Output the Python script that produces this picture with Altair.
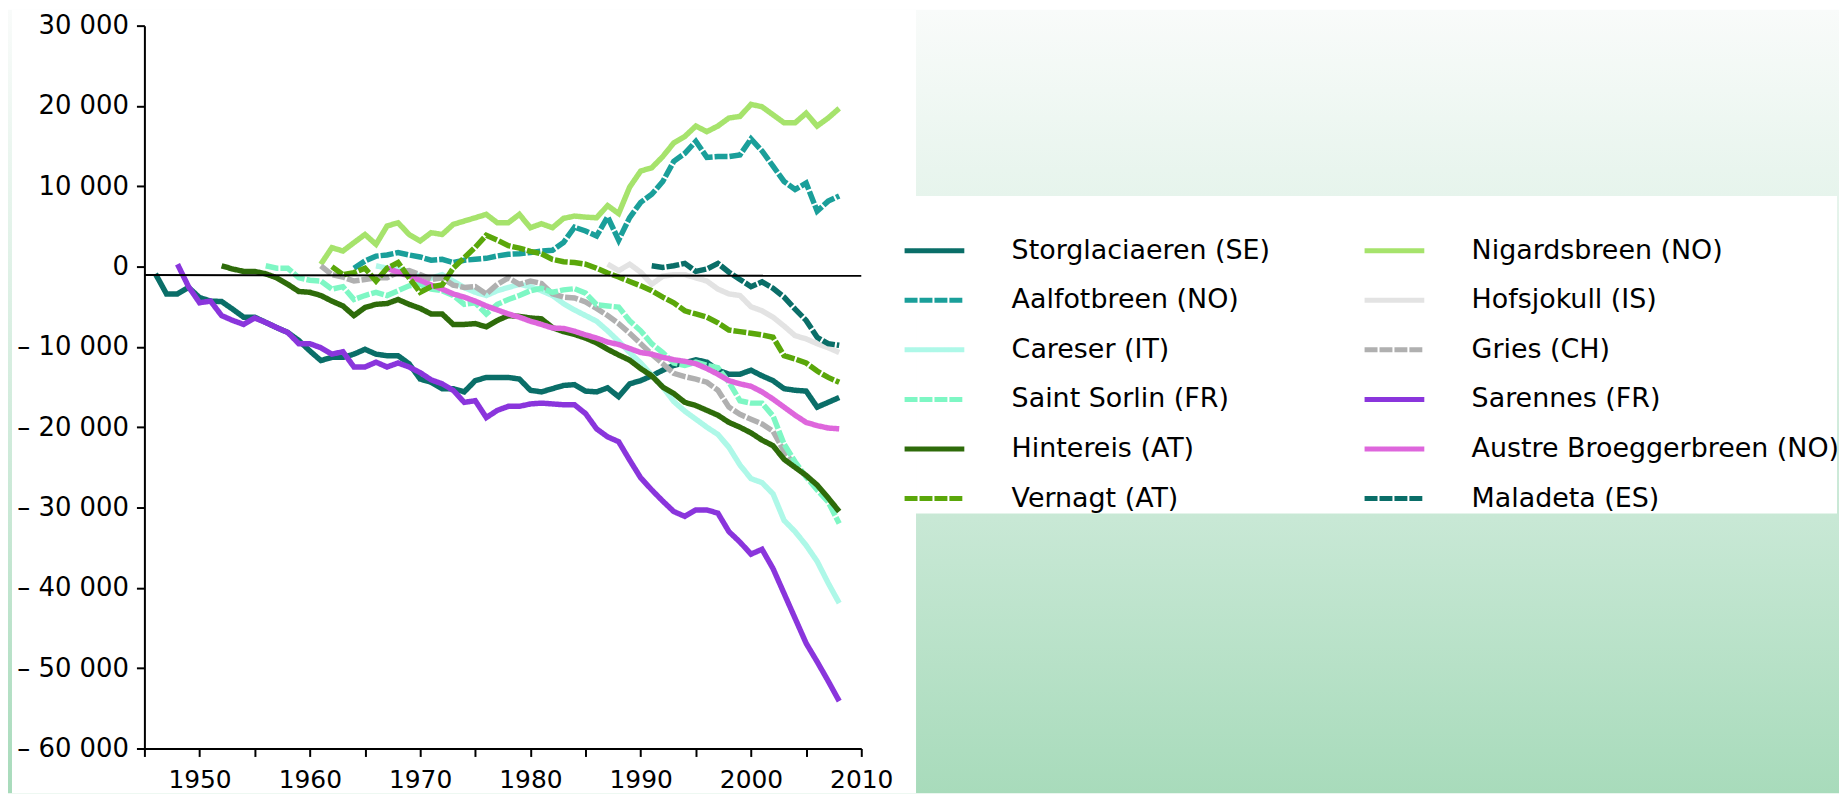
import altair as alt
import pandas as pd

# ---------------- data (cumulative mass balance, mm w.e.) ----------------
# legend order (the legend fills column by column)
glaciers = ["Storglaciaeren (SE)", "Aalfotbreen (NO)", "Careser (IT)", "Saint Sorlin (FR)",
            "Hintereis (AT)", "Vernagt (AT)", "Nigardsbreen (NO)", "Hofsjokull (IS)",
            "Gries (CH)", "Sarennes (FR)", "Austre Broeggerbreen (NO)", "Maladeta (ES)"]
colors = ["#0a6e68", "#1a9f9a", "#aef8e8", "#7ef7c4",
          "#2e6b0a", "#5aa70a", "#a6e36c", "#e3e3e3",
          "#b0b0b0", "#8a35dc", "#de66dc", "#0a6e68"]
dashes = [[1, 0], [13, 2], [1, 0], [13, 2],
          [1, 0], [13, 2], [1, 0], [1, 0],
          [13, 2], [1, 0], [1, 0], [13, 2]]

# drawing order of the lines
draw_order = ["Storglaciaeren (SE)", "Nigardsbreen (NO)", "Aalfotbreen (NO)", "Hofsjokull (IS)",
              "Careser (IT)", "Gries (CH)", "Saint Sorlin (FR)", "Sarennes (FR)",
              "Hintereis (AT)", "Austre Broeggerbreen (NO)", "Vernagt (AT)", "Maladeta (ES)"]

start_years = {
    "Storglaciaeren (SE)": 1946, "Nigardsbreen (NO)": 1961, "Aalfotbreen (NO)": 1964,
    "Hofsjokull (IS)": 1987, "Careser (IT)": 1966, "Gries (CH)": 1961,
    "Saint Sorlin (FR)": 1956, "Sarennes (FR)": 1948, "Hintereis (AT)": 1952,
    "Austre Broeggerbreen (NO)": 1967, "Vernagt (AT)": 1962, "Maladeta (ES)": 1991,
}

storglaciaeren = [-900, -3400, -3400, -2600, -3850, -4300, -4350, -5300, -6300, -6300,
                  -6950, -7600, -8200, -9200, -10500, -11700, -11300, -11300, -10900, -10300,
                  -10900, -11100, -11100, -12100, -14000, -14400, -15200, -15200, -15600, -14200,
                  -13800, -13800, -13800, -14000, -15400, -15600, -15200, -14800, -14700, -15500,
                  -15600, -15100, -16200, -14600, -14200, -13600, -12900, -12300, -12000, -11600,
                  -11900, -12900, -13400, -13400, -12900, -13600, -14200, -15200, -15400, -15500,
                  -17500, -16900, -16300]
nigardsbreen = [300, 2360, 1940, 2980, 4000, 2770, 5050, 5460, 4000, 3190,
                4220, 4000, 5250, 5670, 6080, 6500, 5460, 5460, 6500, 4840,
                5340, 4840, 6000, 6290, 6160, 6080, 7600, 6600, 9900, 11900,
                12300, 13700, 15400, 16200, 17500, 16800, 17500, 18500, 18700, 20200,
                19900, 18900, 17900, 17900, 19100, 17500, 18500, 19700]
aalfotbreen = [-200, 700, 1300, 1450, 1740, 1450, 1200, 790, 910, 500,
               790, 910, 1030, 1320, 1530, 1610, 1740, 1940, 2030, 3000,
               4900, 4430, 3800, 6200, 3300, 6100, 8000, 9000, 10600, 13100,
               14100, 15600, 13600, 13700, 13700, 13900, 15900, 14400, 12500, 10600,
               9600, 10400, 6900, 8150, 8800]
hofsjokull = [300, -500, 300, -700, -2200, -1200, -1000, -1000, -1400, -1800,
              -2800, -3400, -3600, -5000, -5500, -6300, -7400, -8600, -9000, -9600,
              -10100, -10700]
careser = [100, -200, -300, -700, -1200, -1450, -1000, -1800, -2600, -3200,
           -3600, -3000, -2600, -2200, -2500, -3000, -3600, -4600, -5400, -6100,
           -6800, -8000, -9300, -10700, -12000, -13500, -15000, -16800, -18000, -19000,
           -20000, -20900, -22500, -24700, -26400, -26900, -28300, -31600, -33000, -34700,
           -36700, -39400, -41900]
gries = [100, -1000, -1300, -1800, -1600, -1400, -1400, -700, -500, -1000,
         -1600, -1400, -2300, -2600, -2500, -3400, -2200, -1400, -2200, -1800,
         -2100, -3400, -3800, -3900, -4400, -5200, -6100, -7100, -8300, -9600,
         -10900, -12100, -13300, -13700, -14000, -14400, -15400, -17500, -18400, -19000,
         -19600, -20500, -23000, -24800]
saint_sorlin = [100, -200, -200, -1400, -1700, -1800, -2800, -2500, -4100, -3600,
                -3200, -3600, -3000, -2400, -2200, -2800, -3000, -3600, -4700, -4500,
                -5900, -4700, -4100, -3600, -3000, -2700, -3200, -2900, -2750, -3300,
                -4750, -4900, -5050, -6750, -8000, -9600, -10700, -12000, -12300, -11900,
                -12300, -12600, -14400, -16700, -17000, -17000, -18600, -22100, -24300, -26200,
                -27800, -29300, -32000]
sarennes = [300, -2500, -4500, -4300, -6100, -6700, -7200, -6400, -6950, -7600,
            -8200, -9600, -9600, -10100, -10900, -10600, -12500, -12500, -11900, -12500,
            -12000, -12500, -13200, -14100, -14600, -15400, -16900, -16700, -18800, -17900,
            -17400, -17400, -17100, -17000, -17100, -17200, -17200, -18300, -20200, -21200,
            -21800, -24100, -26300, -27800, -29200, -30500, -31100, -30300, -30300, -30700,
            -33000, -34300, -35800, -35200, -37600, -40700, -43800, -46900, -49200, -51600,
            -54100]
hintereis = [100, -300, -600, -600, -900, -1400, -2200, -3100, -3200, -3600,
             -4300, -4900, -6100, -5100, -4700, -4600, -4100, -4700, -5200, -5900,
             -5900, -7200, -7200, -7100, -7500, -6700, -6100, -6200, -6400, -6500,
             -7600, -8100, -8450, -8900, -9500, -10300, -11000, -11650, -12700, -13600,
             -15000, -15800, -16900, -17300, -17900, -18500, -19400, -20000, -20700, -21600,
             -22300, -24000, -25000, -26000, -27200, -28800, -30500]
austre_broeggerbreen = [-200, -700, -1200, -1700, -2300, -2800, -3400, -3800, -4300, -4900,
                        -5400, -5900, -6300, -6800, -7200, -7650, -7700, -8050, -8500, -8900,
                        -9400, -9700, -10200, -10700, -10900, -11300, -11600, -11800, -12100, -12700,
                        -13400, -14200, -14600, -14900, -15600, -16500, -17500, -18500, -19400, -19800,
                        -20100, -20200]
vernagt = [0, -1000, -750, -200, -1800, -200, 500, -1400, -3200, -2500,
           -2300, -200, 1100, 2400, 3900, 3300, 2600, 2300, 1900, 1600,
           900, 600, 500, 300, -200, -800, -1300, -1850, -2400, -3000,
           -3800, -4500, -5500, -5900, -6300, -7000, -7900, -8100, -8300, -8500,
           -8800, -11100, -11500, -12000, -13000, -13800, -14400]
maladeta = [100, -100, 100, 400, -600, -300, 400, -700, -1600, -2500,
            -1900, -2700, -3800, -5300, -6700, -8800, -9600, -9800]

series = {
    "Storglaciaeren (SE)": storglaciaeren, "Nigardsbreen (NO)": nigardsbreen,
    "Aalfotbreen (NO)": aalfotbreen, "Hofsjokull (IS)": hofsjokull,
    "Careser (IT)": careser, "Gries (CH)": gries, "Saint Sorlin (FR)": saint_sorlin,
    "Sarennes (FR)": sarennes, "Hintereis (AT)": hintereis,
    "Austre Broeggerbreen (NO)": austre_broeggerbreen, "Vernagt (AT)": vernagt,
    "Maladeta (ES)": maladeta,
}

ref_years = [1945, 2010]
ref_values = [-1050, -1150]

y_ticks = [30000, 20000, 10000, 0, -10000, -20000, -30000, -40000, -50000, -60000]
x_ticks = [1945, 1950, 1955, 1960, 1965, 1970, 1975, 1980, 1985, 1990, 1995, 2000, 2005, 2010]

# ---------------- build table ----------------
rows = []
for g in draw_order:
    vals = series[g]
    for i, v in enumerate(vals):
        rows.append({"glacier": g, "year": start_years[g] + i, "value": v})
df = pd.DataFrame(rows)
ref_df = pd.DataFrame({"year": ref_years, "value": ref_values})
one = pd.DataFrame({"k": [0]})

FONT = "DejaVu Sans"

x_scale = alt.Scale(domain=[1945, 2010], nice=False, zero=False)
y_scale = alt.Scale(domain=[-60000, 30000], nice=False, zero=False)

x_axis = alt.Axis(values=x_ticks, title=None, grid=False,
                  labelExpr="datum.value % 10 == 0 ? toString(datum.value) : ''",
                  labelFont=FONT, labelFontSize=25, labelColor="black",
                  labelFlush=False, labelOverlap=False, labelPadding=11,
                  tickSize=8, tickWidth=2, tickColor="black",
                  domainWidth=2, domainColor="black", zindex=1)
y_axis = alt.Axis(values=y_ticks, title=None, grid=False,
                  labelExpr="datum.value < 0 ? '\u2013 ' + replace(format(-datum.value, ','), ',', ' ') : replace(format(datum.value, ','), ',', ' ')",
                  labelFont=FONT, labelFontSize=26, labelColor="black",
                  labelFlush=False, labelOverlap=False, labelPadding=8,
                  tickSize=8, tickWidth=2, tickColor="black",
                  domainWidth=2, domainColor="black", zindex=1)

legend = alt.Legend(title=None, orient="none", legendX=761, legendY=211, columns=2,
                    symbolType="stroke", symbolSize=3600, symbolStrokeWidth=5,
                    clipHeight=30, rowPadding=19.8, columnPadding=92, labelOffset=45,
                    labelFont=FONT, labelFontSize=27, labelColor="black", labelLimit=1000,
                    padding=0, zindex=1)

gradient = alt.LinearGradient(
    gradient="linear", x1=0, x2=0, y1=0, y2=1,
    stops=[alt.GradientStop(offset=0, color="#f9fbfa"),
           alt.GradientStop(offset=0.24, color="#e6f4ec"),
           alt.GradientStop(offset=0.65, color="#c8e8d5"),
           alt.GradientStop(offset=1, color="#a8dbbb")])

bg = alt.Chart(one).mark_rect(fill=gradient, strokeWidth=0).encode(
    x=alt.value(-137), x2=alt.value(1702), y=alt.value(-16), y2=alt.value(771))
panel = alt.Chart(one).mark_rect(fill="white", strokeWidth=0).encode(
    x=alt.value(-133), x2=alt.value(775), y=alt.value(-16), y2=alt.value(771))
legend_box = alt.Chart(one).mark_rect(fill="white", strokeWidth=0).encode(
    x=alt.value(775), x2=alt.value(1700), y=alt.value(171), y2=alt.value(490))

lines = alt.Chart(df).mark_line(strokeWidth=5.5).encode(
    x=alt.X("year:Q", scale=x_scale, axis=x_axis),
    y=alt.Y("value:Q", scale=y_scale, axis=y_axis),
    color=alt.Color("glacier:N", scale=alt.Scale(domain=glaciers, range=colors), legend=legend),
    strokeDash=alt.StrokeDash("glacier:N", scale=alt.Scale(domain=glaciers, range=dashes), legend=legend),
)

ref = alt.Chart(ref_df).mark_line(color="black", strokeWidth=2).encode(
    x=alt.X("year:Q", scale=x_scale), y=alt.Y("value:Q", scale=y_scale))

chart = alt.layer(bg, panel, legend_box, lines, ref).properties(
    width=720, height=726,
    autosize=alt.AutoSizeParams(type="none"),
    padding={"left": 137, "top": 16, "right": 982, "bottom": 45},
).configure_view(stroke=None).configure(font=FONT)

chart.save("out.html", embed_options={"renderer": "svg", "actions": False})
